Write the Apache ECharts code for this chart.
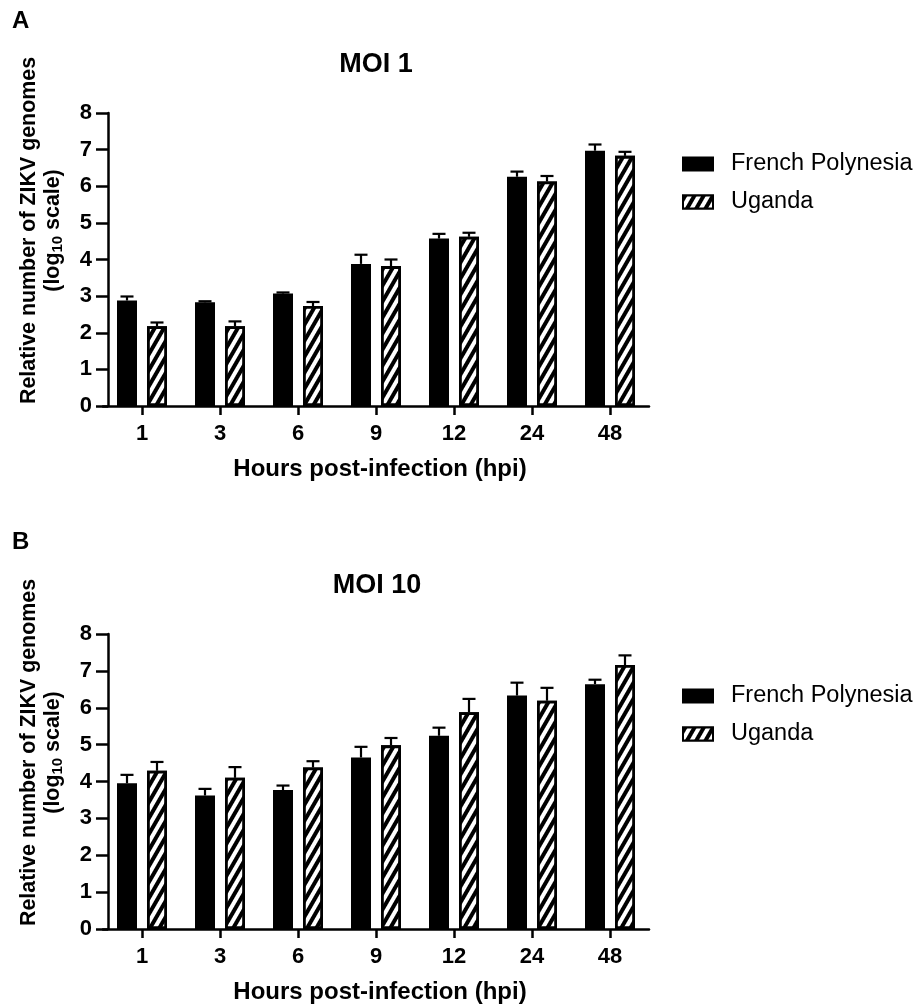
<!DOCTYPE html>
<html><head><meta charset="utf-8">
<script src="https://cdn.jsdelivr.net/npm/echarts@6/dist/echarts.min.js"></script>
<style>html,body{margin:0;padding:0;background:#fff}#c{width:921px;height:1006px}</style>
</head><body><div id="c"></div>
<script>
const categories = ['1', '3', '6', '9', '12', '24', '48'];
const seriesNames = ['French Polynesia', 'Uganda'];
const panelLabels = ['A', 'B'];
const panelTitles = ['MOI 1', 'MOI 10'];
const xAxisTitle = 'Hours post-infection (hpi)';
const yAxisTitle = 'Relative number of ZIKV genomes\n(log{sub|10} scale)';

// MOI 1 (log10 means and upper error)
const moi1FP = [2.88, 2.83, 3.07, 3.88, 4.57, 6.26, 6.97];
const moi1FPErr = [0.11, 0.03, 0.03, 0.25, 0.13, 0.14, 0.17];
const moi1UG = [2.18, 2.18, 2.73, 3.82, 4.62, 6.13, 6.83];
const moi1UGErr = [0.10, 0.13, 0.11, 0.18, 0.11, 0.15, 0.11];

// MOI 10
const moi10FP = [3.95, 3.62, 3.77, 4.65, 5.24, 6.33, 6.64];
const moi10FPErr = [0.23, 0.18, 0.12, 0.29, 0.22, 0.35, 0.12];
const moi10UG = [4.29, 4.10, 4.38, 4.98, 5.88, 6.19, 7.16];
const moi10UGErr = [0.24, 0.29, 0.17, 0.20, 0.36, 0.35, 0.26];

const F = '"Liberation Sans", Arial, Helvetica, sans-serif';
const hatch = {
  symbol: 'rect', symbolSize: 1, symbolKeepAspect: false,
  color: '#000', backgroundColor: '#fff',
  dashArrayX: [1, 0], dashArrayY: [3.5, 4], rotation: -Math.PI / 3
};

const grids = [
  { left: 103, top: 113, width: 546, height: 293 },
  { left: 103, top: 634, width: 546, height: 295 }
];

function xAx(gi) {
  return {
    gridIndex: gi, type: 'category', data: categories,
    axisLine: { show: true, lineStyle: { color: '#000', width: 2.5 } },
    axisTick: { show: true, alignWithLabel: true, length: 9, lineStyle: { color: '#000', width: 2.5 } },
    axisLabel: { color: '#000', fontSize: 22, fontWeight: 'bold', fontFamily: F, margin: 17 },
    splitLine: { show: false },
    name: xAxisTitle, nameLocation: 'middle', nameGap: 51,
    nameTextStyle: { color: '#000', fontSize: 24, fontWeight: 'bold', fontFamily: F, padding: [0, 0, 0, 8] }
  };
}
function yAx(gi) {
  return {
    gridIndex: gi, type: 'value', min: 0, max: 8, interval: 1, offset: -5,
    axisLine: { show: true, lineStyle: { color: '#000', width: 2.5 } },
    axisTick: { show: true, length: 12, lineStyle: { color: '#000', width: 2.5 } },
    axisLabel: { color: '#000', fontSize: 22, fontWeight: 'bold', fontFamily: F, margin: 16 },
    splitLine: { show: false },
    name: yAxisTitle, nameLocation: 'middle', nameGap: 43,
    nameTextStyle: {
      color: '#000', fontSize: 21.4, fontWeight: 'bold', fontFamily: F, lineHeight: 24,
      padding: [0, 0, 0, 58],
      rich: { sub: { fontSize: 15, fontWeight: 'bold', fontFamily: F, color: '#000', verticalAlign: 'bottom', lineHeight: 24 } }
    }
  };
}

function errRender(offset) {
  return function (params, api) {
    const i = api.value(0), m = api.value(1), e = api.value(2);
    const p0 = api.coord([i, m]);
    const p1 = api.coord([i, m + e]);
    const x = p0[0] + offset;
    return {
      type: 'group', children: [
        { type: 'line', shape: { x1: x, y1: p0[1], x2: x, y2: p1[1] }, style: { stroke: '#000', lineWidth: 2.2 } },
        { type: 'line', shape: { x1: x - 6.5, y1: p1[1], x2: x + 6.5, y2: p1[1] }, style: { stroke: '#000', lineWidth: 2.2 } }
      ]
    };
  };
}

function panelSeries(gi, fp, fpErr, ug, ugErr) {
  return [
    { type: 'bar', name: seriesNames[0], xAxisIndex: gi, yAxisIndex: gi, data: fp, barWidth: 20, barGap: '50%',
      itemStyle: { color: '#000', borderColor: '#000', borderWidth: 2.5 } },
    { type: 'bar', name: seriesNames[1], xAxisIndex: gi, yAxisIndex: gi, data: ug, barWidth: 20, barGap: '50%',
      itemStyle: { color: '#fff', borderColor: '#000', borderWidth: 2.8, decal: hatch } },
    { type: 'custom', name: 'errFP' + gi, xAxisIndex: gi, yAxisIndex: gi, z: 5,
      data: categories.map((c, i) => [i, fp[i], fpErr[i]]), encode: { x: 0, y: 1 }, renderItem: errRender(-15) },
    { type: 'custom', name: 'errUG' + gi, xAxisIndex: gi, yAxisIndex: gi, z: 5,
      data: categories.map((c, i) => [i, ug[i], ugErr[i]]), encode: { x: 0, y: 1 }, renderItem: errRender(15) }
  ];
}

function legendAt(top) {
  return {
    orient: 'vertical', left: 682, top: top, padding: 0, itemWidth: 30, itemHeight: 13, itemGap: 14,
    selectedMode: false, icon: 'rect', data: seriesNames,
    textStyle: { color: '#000', fontSize: 23.5, fontFamily: F, padding: [0, 0, 0, 13] }
  };
}

const chart = echarts.init(document.getElementById('c'), null, { renderer: 'canvas' });
chart.setOption({
  animation: false,
  backgroundColor: '#fff',
  title: [
    { text: panelLabels[0], left: 12, top: 9, padding: 0, textStyle: { fontSize: 24, fontWeight: 'bold', fontFamily: F, color: '#000' } },
    { text: panelTitles[0], left: 376, textAlign: 'center', top: 51, padding: 0, textStyle: { fontSize: 27, fontWeight: 'bold', fontFamily: F, color: '#000' } },
    { text: panelLabels[1], left: 12, top: 530, padding: 0, textStyle: { fontSize: 24, fontWeight: 'bold', fontFamily: F, color: '#000' } },
    { text: panelTitles[1], left: 377, textAlign: 'center', top: 572, padding: 0, textStyle: { fontSize: 27, fontWeight: 'bold', fontFamily: F, color: '#000' } }
  ],
  legend: [legendAt(152), legendAt(684)],
  grid: grids,
  xAxis: [xAx(0), xAx(1)],
  yAxis: [yAx(0), yAx(1)],
  series: [].concat(
    panelSeries(0, moi1FP, moi1FPErr, moi1UG, moi1UGErr),
    panelSeries(1, moi10FP, moi10FPErr, moi10UG, moi10UGErr)
  )
});
</script></body></html>
